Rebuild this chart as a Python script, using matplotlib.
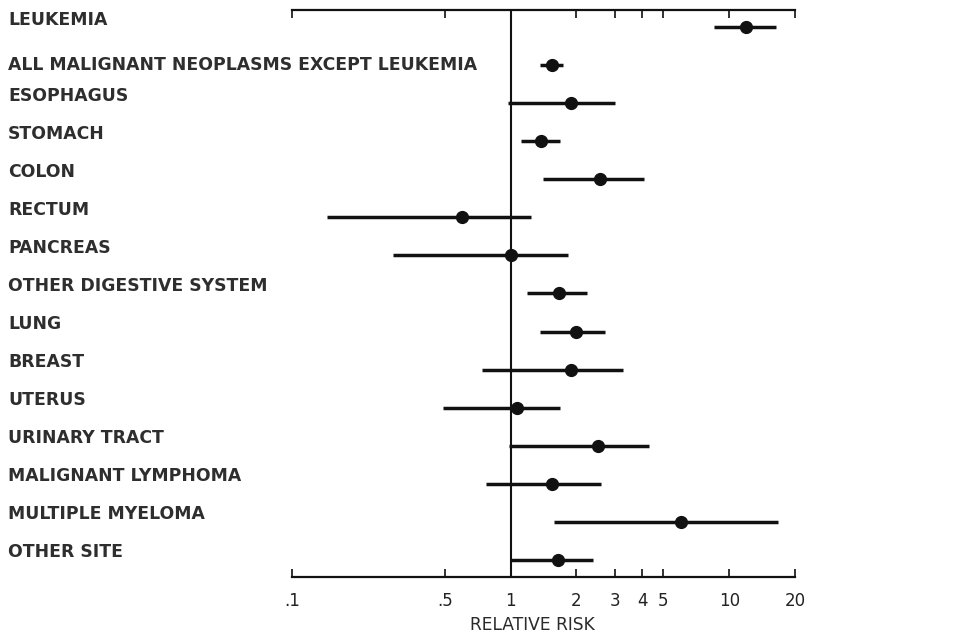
import numpy as np
import matplotlib
matplotlib.use('Agg')
import matplotlib.pyplot as plt
import matplotlib.transforms as mtransforms

# 部位名称与相对危险度（点估计及置信区间）
sites = ['LEUKEMIA', 'ALL MALIGNANT NEOPLASMS EXCEPT LEUKEMIA', 'ESOPHAGUS',
         'STOMACH', 'COLON', 'RECTUM', 'PANCREAS', 'OTHER DIGESTIVE SYSTEM',
         'LUNG', 'BREAST', 'UTERUS', 'URINARY TRACT', 'MALIGNANT LYMPHOMA',
         'MULTIPLE MYELOMA', 'OTHER SITE']
rr = [11.9, 1.54, 1.89, 1.38, 2.56, 0.60, 1.00, 1.66,
      1.99, 1.88, 1.07, 2.50, 1.55, 6.0, 1.64]
lower = [8.55, 1.36, 0.97, 1.12, 1.40, 0.144, 0.29, 1.19,
         1.36, 0.74, 0.49, 0.98, 0.77, 1.58, 1.00]
upper = [16.3, 1.74, 2.99, 1.69, 4.06, 1.24, 1.84, 2.23,
         2.70, 3.27, 1.68, 4.28, 2.60, 16.7, 2.37]

ticks = [0.1, 0.5, 1, 2, 3, 4, 5, 10, 20]
tick_labels = ['.1', '.5', '1', '2', '3', '4', '5', '10', '20']

fig = plt.figure(figsize=(9.78, 6.34), dpi=100)
ax = fig.add_axes([292 / 978, 1 - 577 / 634, (795 - 292) / 978, (577 - 10) / 634])

rows = np.arange(len(sites))
ax.hlines(rows, lower, upper, color='#111111', linewidth=2.5)
ax.plot(rr, rows, 'o', color='#111111', markersize=8.5)
ax.axvline(1, color='#111111', linewidth=1.5)

ax.set_xscale('log')
ax.set_xlim(0.1, 20)
ax.set_ylim(len(sites) - 1 + 0.45, -0.45)

ax.set_xticks(ticks)
ax.set_xticklabels(tick_labels, fontsize=12, color='#2a2a2a')
ax.minorticks_off()
ax.tick_params(axis='x', direction='in', length=6, width=1.3, pad=11,
               top=True, bottom=True, colors='#222222')
ax.tick_params(axis='y', left=False, labelleft=False)
for s in ['left', 'right']:
    ax.spines[s].set_visible(False)
for s in ['top', 'bottom']:
    ax.spines[s].set_linewidth(1.6)
    ax.spines[s].set_color('#111111')

# 左侧标签
trans = mtransforms.blended_transform_factory(fig.transFigure, ax.transData)
for i, name in enumerate(sites):
    y = i if i == 1 else i - 0.2
    ax.text(8 / 978, y, name, transform=trans, ha='left', va='center',
            fontsize=12.4, fontweight='bold', color='#2e2e2e')

fig.text(532 / 978, 1 - 625 / 634, 'RELATIVE RISK', ha='center', va='center',
         fontsize=12.3, color='#2a2a2a')

fig.savefig('out.png', dpi=100, facecolor='white')
